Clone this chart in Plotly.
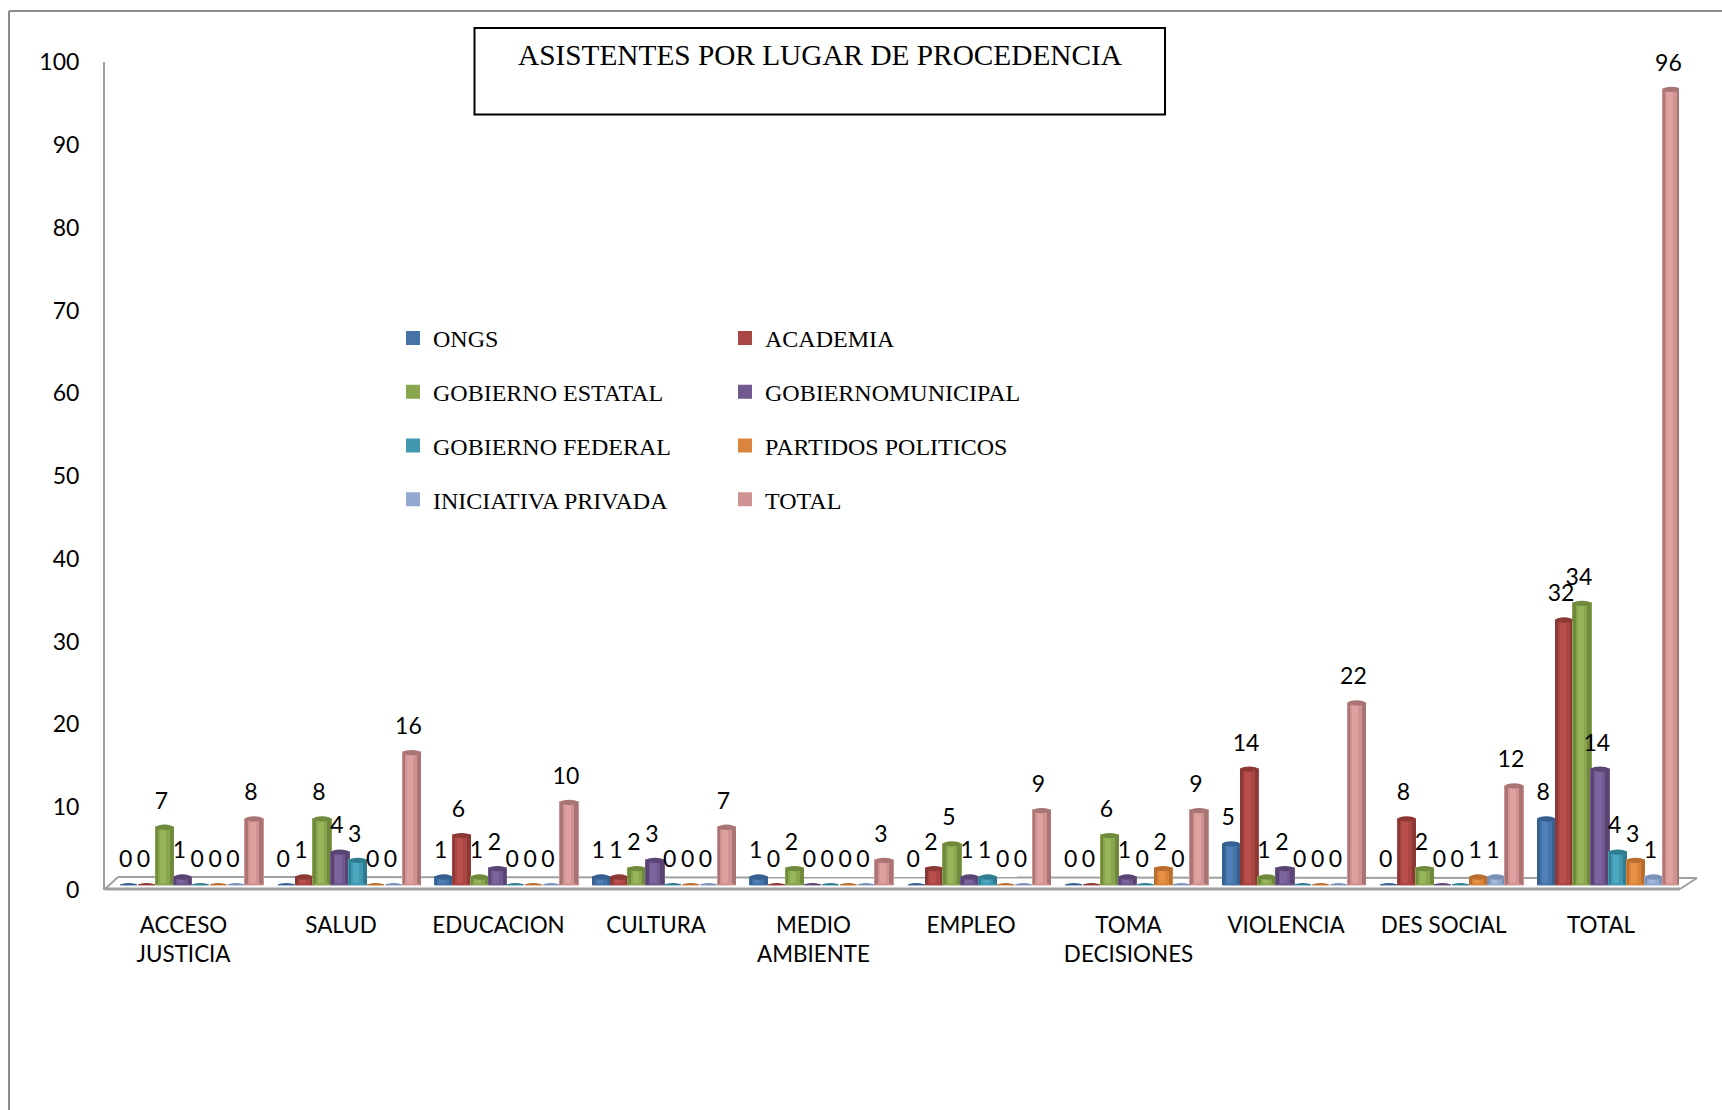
import plotly.graph_objects as go

categories = ["ACCESO<br>JUSTICIA", "SALUD", "EDUCACION", "CULTURA", "MEDIO<br>AMBIENTE",
              "EMPLEO", "TOMA<br>DECISIONES", "VIOLENCIA", "DES SOCIAL", "TOTAL"]
ongs = [0, 0, 1, 1, 1, 0, 0, 5, 0, 8]
academia = [0, 1, 6, 1, 0, 2, 0, 14, 8, 32]
estatal = [7, 8, 1, 2, 2, 5, 6, 1, 2, 34]
municipal = [1, 4, 2, 3, 0, 1, 1, 2, 0, 14]
federal = [0, 3, 0, 0, 0, 1, 0, 0, 0, 4]
partidos = [0, 0, 0, 0, 0, 0, 2, 0, 1, 3]
iniciativa = [0, 0, 0, 0, 0, 0, 0, 0, 1, 1]
total = [8, 16, 10, 7, 3, 9, 9, 22, 12, 96]

series = [
    ("ONGS", ongs, "#4572A7", "#35608F", "#4F80B8", "legend"),
    ("ACADEMIA", academia, "#AA4643", "#8C3835", "#BB4F4C", "legend2"),
    ("GOBIERNO ESTATAL", estatal, "#89A54E", "#6F8A3C", "#97B559", "legend"),
    ("GOBIERNOMUNICIPAL", municipal, "#71588F", "#594474", "#7E649E", "legend2"),
    ("GOBIERNO FEDERAL", federal, "#4198AF", "#307D92", "#4AA8C1", "legend"),
    ("PARTIDOS POLITICOS", partidos, "#DB843D", "#B96D2E", "#EA9148", "legend2"),
    ("INICIATIVA PRIVADA", iniciativa, "#93A9CF", "#7A90B6", "#A3B9DE", "legend"),
    ("TOTAL", total, "#D19392", "#A87574", "#DFA0A0", "legend2"),
]

W, H = 1722, 1110
L, R, T, B = 105.0, 1679.0, 50.0, 900.0
PITCH = 0.1137
SANS = "Lato"
SERIF = "Liberation Serif"


def xp(px):
    return (px - L) / (R - L)


def yp(py):
    return (B - py) / (B - T)


fig = go.Figure()
shapes = []
centers = list(range(len(categories)))
n = len(series)

# floor of the 3D look and outer frame
GREY = "#A0A0A0"
for (x0, y0, x1, y1, w) in [
    (105, 889, 1680, 889, 3), (1680, 889, 1697, 878, 2), (118, 877, 1697, 878, 2), (105, 889, 118, 877, 2),
]:
    shapes.append(dict(type="line", xref="paper", yref="paper", x0=xp(x0), y0=yp(y0), x1=xp(x1), y1=yp(y1),
                       line=dict(color=GREY, width=w), layer="below"))
for (x0, y0, x1, y1) in [(9, 11, 9, 1110), (9, 11, 1722, 11)]:
    shapes.append(dict(type="line", xref="paper", yref="paper", x0=xp(x0), y0=yp(y0), x1=xp(x1), y1=yp(y1),
                       line=dict(color="#8C8C8C", width=2), layer="below"))
# title box
shapes.append(dict(type="rect", xref="paper", yref="paper", x0=xp(474.5), y0=yp(114.5), x1=xp(1165), y1=yp(28),
                   line=dict(color="#000000", width=2), fillcolor="rgba(0,0,0,0)"))

for j, (name, vals, col, dark, light, leg) in enumerate(series):
    xs = [c + (j - (n - 1) / 2) * PITCH for c in centers]
    # the cylinder body: flat colour, then dark edges and a lighter middle
    fig.add_trace(go.Bar(x=xs, y=vals, width=PITCH * 0.96, name=name, legend=leg, legendgroup=name,
                         marker=dict(color=col, line=dict(width=2, color=col))))
    for frac, off, c in [(0.14, -0.43, dark), (0.2, 0.40, dark), (0.34, -0.08, light)]:
        fig.add_trace(go.Bar(x=[x + off * PITCH for x in xs], y=vals, width=PITCH * frac, showlegend=False,
                             hoverinfo="skip", marker=dict(color=c, line=dict(width=0))))
    for x, v in zip(xs, vals):
        hw = PITCH * 0.48
        shapes.append(dict(type="circle", xref="x", yref="y", x0=x - hw, x1=x + hw, y0=-0.28, y1=0.28,
                           fillcolor=col if v else dark, line=dict(width=0), layer="above"))
        if v:
            shapes.append(dict(type="circle", xref="x", yref="y", x0=x - hw, x1=x + hw, y0=v - 0.32, y1=v + 0.32,
                               fillcolor=dark, line=dict(width=0), layer="above"))
    fig.add_trace(go.Scatter(x=[x - 0.02 for x in xs], y=[v + 2.95 for v in vals], mode="text",
                             text=[str(v) for v in vals], textposition="middle center", cliponaxis=False,
                             textfont=dict(family=SANS, size=23, color="#000000"),
                             showlegend=False, hoverinfo="skip"))

# carrier for the axis that holds the value labels
fig.add_trace(go.Scatter(x=[None], y=[None], yaxis="y2", showlegend=False, hoverinfo="skip"))

legend_common = dict(bgcolor="rgba(0,0,0,0)", font=dict(family=SERIF, size=24, color="#000000"),
                     tracegroupgap=19.5, itemclick=False, itemdoubleclick=False,
                     xanchor="left", yanchor="top",
                     orientation="v", itemwidth=30, borderwidth=0)

fig.update_layout(
    width=W, height=H, autosize=False,
    margin=dict(l=L, r=W - R, t=T, b=H - B, pad=0, autoexpand=False),
    paper_bgcolor="#FFFFFF", plot_bgcolor="rgba(0,0,0,0)",
    barmode="overlay", bargap=0,
    title=dict(text="ASISTENTES POR LUGAR DE PROCEDENCIA", xref="container", yref="container",
               x=820 / W, xanchor="center", y=1 - 55 / H, yanchor="middle",
               font=dict(family=SERIF, size=29.3, color="#000000")),
    xaxis=dict(range=[-0.5486, 9.445], tickmode="array", tickvals=[c - 0.05 for c in centers], ticktext=categories,
               showgrid=False, zeroline=False, showline=False, ticks="", ticklen=0, ticklabelstandoff=24,
               tickfont=dict(family=SANS, size=22.4, color="#000000"), tickangle=0, anchor="y"),
    yaxis=dict(range=[0, 100], domain=[yp(885.3), yp(56.3)], dtick=10, showgrid=False, zeroline=False,
               showline=False, ticks="", showticklabels=False),
    yaxis2=dict(range=[0, 100], domain=[yp(889.8), yp(62.4)], tick0=0, dtick=10, showgrid=False, zeroline=False,
                anchor="x", showline=True, linecolor=GREY, linewidth=2, ticks="", ticklen=0, ticklabelstandoff=19,
                tickfont=dict(family=SANS, size=23, color="#000000")),
    legend=dict(x=xp(393), y=yp(316), **legend_common),
    legend2=dict(x=xp(725), y=yp(316), **legend_common),
    shapes=shapes,
)

fig.write_html("out.html", config=dict(displayModeBar=False),
               post_script="document.body.style.margin='0';document.body.style.overflow='hidden';")
